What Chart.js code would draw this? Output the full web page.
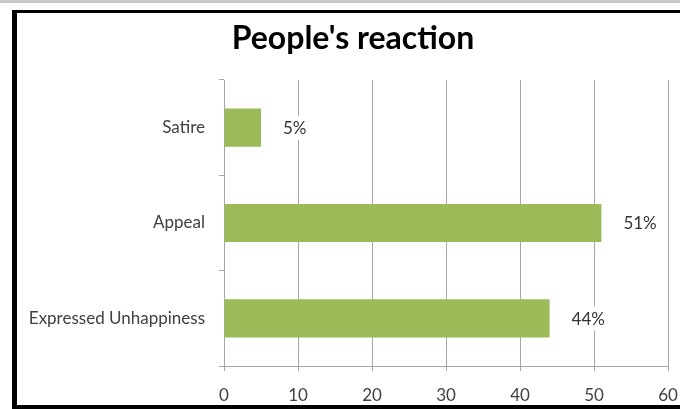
<!DOCTYPE html>
<html>
<head>
<meta charset="utf-8">
<script src="https://cdn.jsdelivr.net/npm/chart.js@4.4.1/dist/chart.umd.min.js"></script>
<style>
  body { margin: 0; background: #fff; }
  #wrap { position: relative; width: 680px; height: 409px; overflow: hidden; }
  #topline { position: absolute; left: 0; top: 0; width: 680px; height: 3px; background: #c8c8c8; }
  #frame {
    position: absolute; left: 12px; top: 10px; width: 700px; height: 399px;
    border-left: 5px solid #000; border-top: 3px solid #000; border-bottom: 4px solid #000;
    box-sizing: border-box;
  }
  canvas { position: absolute; left: 0; top: 0; }
</style>
</head>
<body>
<div id="wrap">
  <div id="topline"></div>
  <div id="frame"></div>
  <canvas id="reactionChart" width="680" height="409"></canvas>
</div>
<script>
const categories = ["Satire", "Appeal", "Expressed Unhappiness"];
const shares = [5, 51, 44];
const xTicks = [0, 10, 20, 30, 40, 50, 60];
const chartTitle = "People's reaction";

const textColor = "#404040";
const gridColor = "#a6a6a6";
const fontFamily = "Lato, 'Open Sans', sans-serif";

// заголовок рисуем сами: центр чуть правее середины холста
const titleText = {
  id: "titleText",
  afterDraw(chart) {
    const ctx = chart.ctx;
    ctx.save();
    ctx.font = "bold 32px " + fontFamily;
    ctx.fillStyle = "#000";
    ctx.textAlign = "center";
    ctx.textBaseline = "middle";
    ctx.fillText(chartTitle, 353, 39);
    ctx.restore();
  },
};

// подписи значений справа от полос, на белой подложке
const valueLabels = {
  id: "valueLabels",
  afterDatasetsDraw(chart) {
    const ctx = chart.ctx;
    const meta = chart.getDatasetMeta(0);
    ctx.save();
    ctx.font = "17px " + fontFamily;
    ctx.textBaseline = "middle";
    ctx.textAlign = "left";
    meta.data.forEach((bar, i) => {
      const text = shares[i] + "%";
      const x = bar.x + 22;
      const w = ctx.measureText(text).width;
      ctx.fillStyle = "#fff";
      ctx.fillRect(x - 4, bar.y - 12, w + 8, 24);
      ctx.fillStyle = "#333";
      ctx.fillText(text, x, bar.y + 1);
    });
    ctx.restore();
  },
};

const ctx = document.getElementById("reactionChart").getContext("2d");
new Chart(ctx, {
  type: "bar",
  data: {
    labels: categories,
    datasets: [
      {
        data: shares,
        backgroundColor: "#9bbb59",
        borderWidth: 0,
        categoryPercentage: 1,
        barPercentage: 0.4,
      },
    ],
  },
  options: {
    indexAxis: "y",
    responsive: false,
    animation: false,
    layout: { padding: { left: 18, right: 12, top: 80, bottom: 0 } },
    plugins: {
      legend: { display: false },
      tooltip: { enabled: false },
      title: { display: false },
    },
    scales: {
      x: {
        min: 0,
        max: 60,
        afterBuildTicks: (scale) => {
          scale.ticks = xTicks.map((v) => ({ value: v }));
        },
        afterFit: (scale) => {
          scale.height = 43;
          scale.paddingLeft = 0;
          scale.paddingRight = 0;
        },
        grid: { color: gridColor, tickLength: 5 },
        border: { color: gridColor },
        ticks: {
          color: textColor,
          padding: 14,
          maxRotation: 0,
          font: { family: fontFamily, size: 17 },
        },
      },
      y: {
        afterFit: (scale) => {
          scale.width = 206;
        },
        grid: { color: gridColor, drawOnChartArea: false, tickLength: 5 },
        border: { color: gridColor },
        ticks: {
          color: textColor,
          padding: 14,
          font: { family: fontFamily, size: 17 },
        },
      },
    },
  },
  plugins: [valueLabels, titleText],
});
</script>
</body>
</html>
